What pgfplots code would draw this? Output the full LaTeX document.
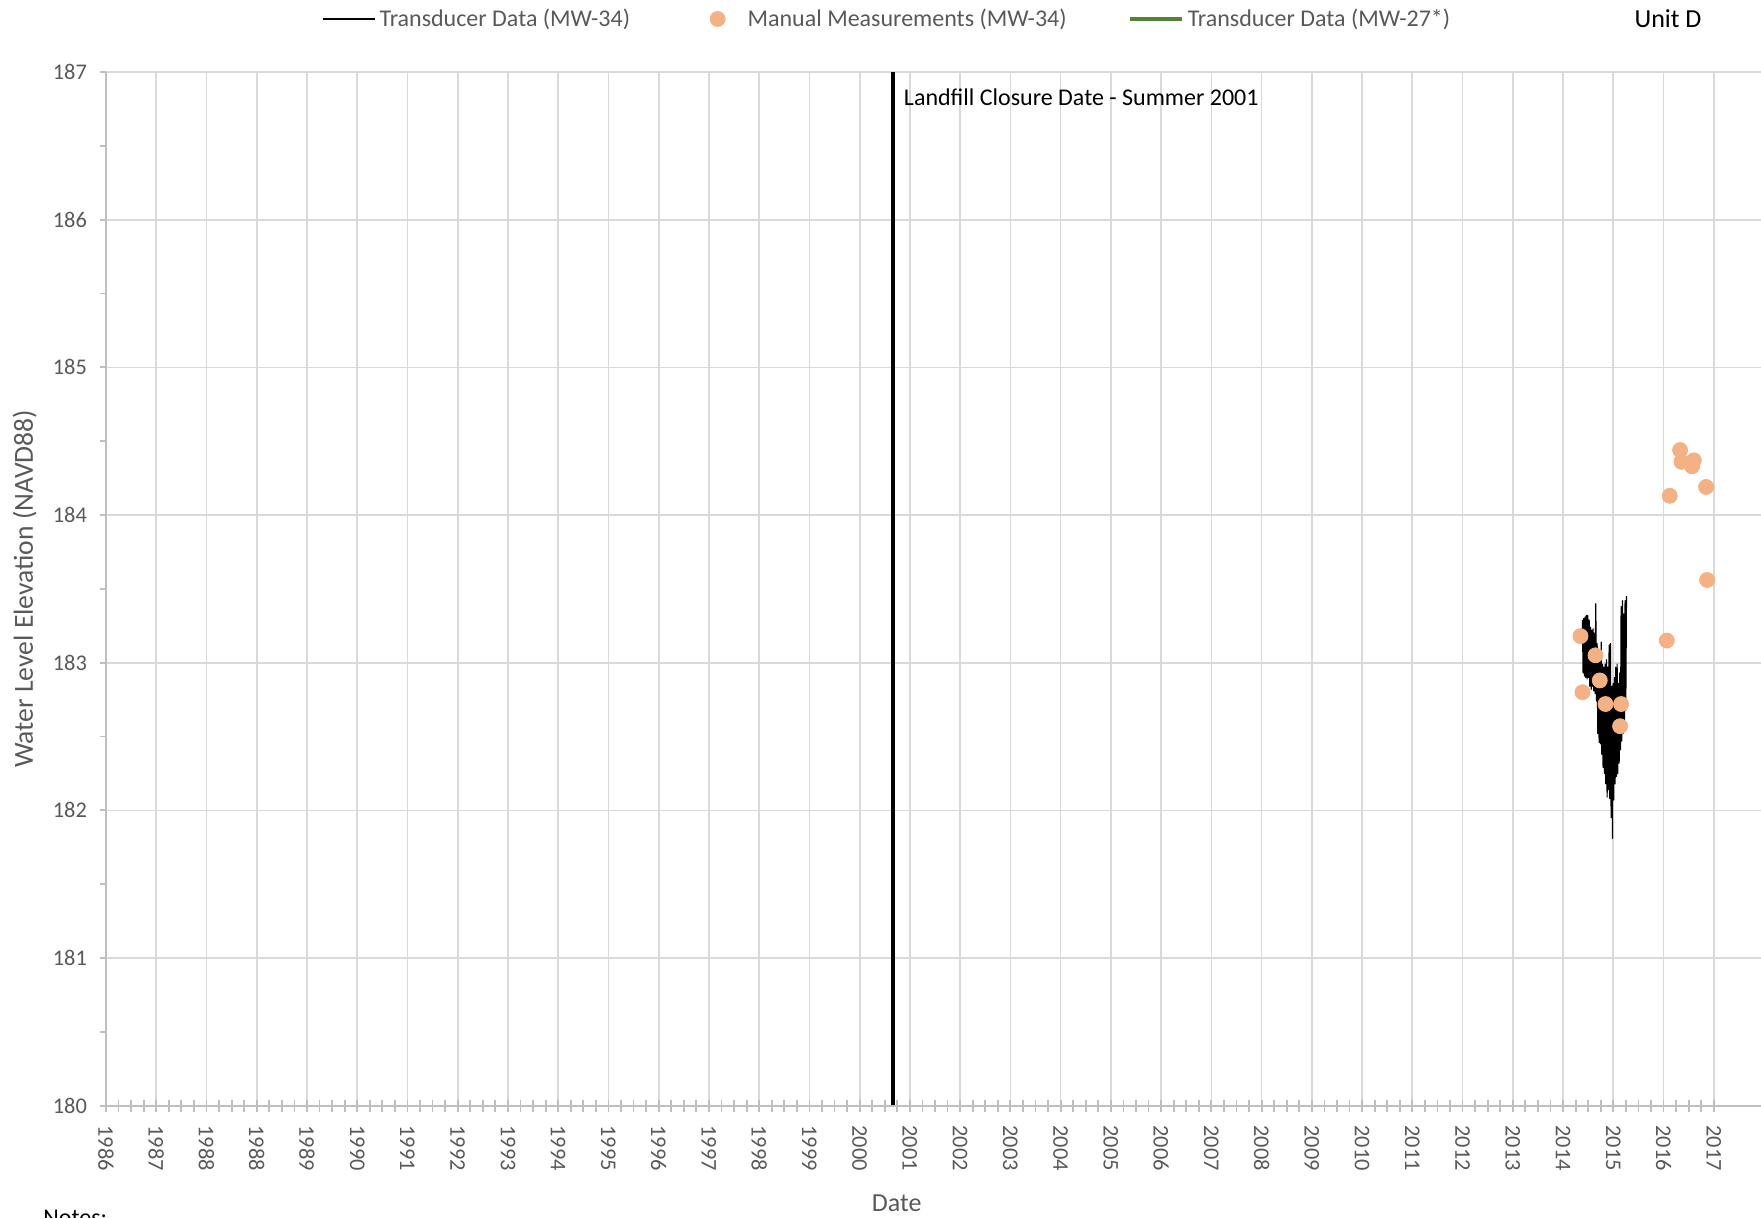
\documentclass[border=0pt]{standalone}
\usepackage{fontspec}
\setmainfont{Carlito}
\usepackage{pgfplots}
\pgfplotsset{compat=1.18}
\definecolor{gridc}{HTML}{D9D9D9}
\definecolor{axisc}{HTML}{BFBFBF}
\definecolor{txtc}{HTML}{595959}
\definecolor{dotc}{HTML}{F4B183}
\definecolor{greenc}{HTML}{548235}
\begin{document}
\begin{tikzpicture}[x=1pt,y=1pt]
\useasboundingbox (0,0) rectangle (880.5,608.5);
\clip (0,0) rectangle (880.5,608.5);
\begin{axis}[
  at={(53pt,55.65pt)}, anchor=south west,
  scale only axis, width=827.5pt, height=516.85pt,
  xmin=0, xmax=32.94, ymin=180, ymax=187,
  axis lines*=left,
  axis line style={axisc, line width=1pt},
  xtick={0,...,32},
  xticklabels={1986,1987,1988,1988,1989,1990,1991,1992,1993,1994,1995,1996,1997,1998,1999,2000,2001,2002,2003,2004,2005,2006,2007,2008,2009,2010,2011,2012,2013,2014,2015,2016,2017},
  ytick={180,...,187},
  minor x tick num=3, minor y tick num=1,
  xtick align=center,
  major tick length=6pt, minor tick length=6pt,
  tick style={axisc, line width=0.9pt},
  y tick style={draw=none},
  grid=major,
  major grid style={gridc, line width=0.85pt},
  /pgf/number format/assume math mode=true,
  ticklabel style={font=\fontsize{11.2}{13}\selectfont, text=txtc},
  xticklabel style={yshift=-3.3pt, rotate=-90, anchor=west},
  yticklabel style={xshift=-6pt},
  xlabel={Date}, ylabel={Water Level Elevation (NAVD88)},
  xlabel style={font=\fontsize{13}{15}\selectfont, text=txtc, at={(axis description cs:0.4778,-0.0945)}, anchor=center},
  ylabel style={font=\fontsize{13.8}{16}\selectfont, text=txtc, at={(axis description cs:-0.0491,0.5)}, anchor=center},
  legend style={at={(axis description cs:0.1305,1.0513)}, anchor=west, draw=none, fill=none,
    legend columns=3, font=\fontsize{12}{14}\selectfont, text=txtc,
    inner xsep=0pt, inner ysep=0pt,
    /tikz/every even column/.append style={column sep=28.8pt}},
  legend image code/.code={\path[draw=none,fill=none] (0pt,0pt) -- (26pt,0pt);\draw[mark repeat=2,mark phase=2,#1] plot coordinates {(0pt,0pt) (13pt,0pt) (26pt,0pt)};},
]
% closure line
\addplot[black, line width=2pt, forget plot] coordinates {(15.655,180) (15.655,187)};
% transducer data MW-34
\addplot[black, line width=0.6pt, line join=round, no marks] coordinates {
(29.386,183.29) (29.399,182.93) (29.413,183.30) (29.426,182.91) (29.439,183.31) (29.452,182.90)
(29.466,183.32) (29.479,182.89) (29.492,183.32) (29.505,182.90) (29.519,183.29) (29.532,182.84)
(29.545,183.24) (29.559,182.82) (29.572,183.22) (29.585,182.84) (29.598,183.23) (29.612,182.81)
(29.625,183.20) (29.638,182.79) (29.651,183.40) (29.665,182.74) (29.678,183.13) (29.691,182.52)
(29.704,183.06) (29.718,182.46) (29.731,183.03) (29.744,182.45) (29.758,183.14) (29.771,182.38)
(29.784,182.99) (29.797,182.29) (29.811,182.97) (29.824,182.25) (29.837,182.99) (29.850,182.18)
(29.864,183.02) (29.877,182.09) (29.890,182.97) (29.903,182.14) (29.917,183.12) (29.930,182.08)
(29.943,183.13) (29.957,181.95) (29.970,182.84) (29.983,181.81) (29.996,182.86) (30.010,182.07)
(30.023,182.90) (30.036,182.18) (30.049,182.97) (30.063,182.23) (30.076,182.99) (30.089,182.25)
(30.102,182.86) (30.116,182.32) (30.129,182.93) (30.142,182.41) (30.156,183.38) (30.169,182.47)
(30.182,183.42) (30.195,182.52) (30.209,183.33) (30.222,182.61) (30.235,183.42) (30.248,182.68)
(30.262,183.45)
};
\addlegendentry{Transducer Data (MW-34)}
% manual measurements
\addplot[only marks, mark=*, mark size=3.75pt, mark options={fill=dotc, draw=dotc}] coordinates {
(31.329,184.44) (31.357,184.36) (31.602,184.37) (31.568,184.33) (31.847,184.19)
(31.124,184.13) (31.867,183.56) (31.065,183.15) (29.347,183.18) (29.646,183.05)
(29.731,182.88) (29.387,182.80) (29.845,182.72) (30.155,182.72) (30.135,182.57)
};
\addlegendentry{Manual Measurements (MW-34)}
\addlegendimage{greenc, line width=1.75pt}
\addlegendentry{Transducer Data (MW-27*)}
\node[anchor=west, inner sep=0pt, font=\fontsize{12}{14}\selectfont, xshift=5.5pt] at (axis cs:15.655,186.826) {Landfill Closure Date - Summer 2001};
\end{axis}
% second axis: y ticks only (outside, shorter)
\begin{axis}[
  at={(53pt,55.65pt)}, anchor=south west,
  scale only axis, width=827.5pt, height=516.85pt,
  xmin=0, xmax=32.94, ymin=180, ymax=187,
  axis lines*=left,
  axis line style={axisc, line width=1pt},
  xtick=\empty, ytick={180,...,187}, yticklabels={},
  minor y tick num=1,
  ytick align=outside,
  major tick length=3pt, minor tick length=3pt,
  tick style={axisc, line width=0.9pt},
]
\end{axis}
\node[font=\fontsize{13}{15}\selectfont] at (834,599) {Unit D};
\node[anchor=base west, inner sep=0pt, font=\fontsize{12}{14}\selectfont] at (21.5,-4.25) {Notes:};
\end{tikzpicture}
\end{document}
